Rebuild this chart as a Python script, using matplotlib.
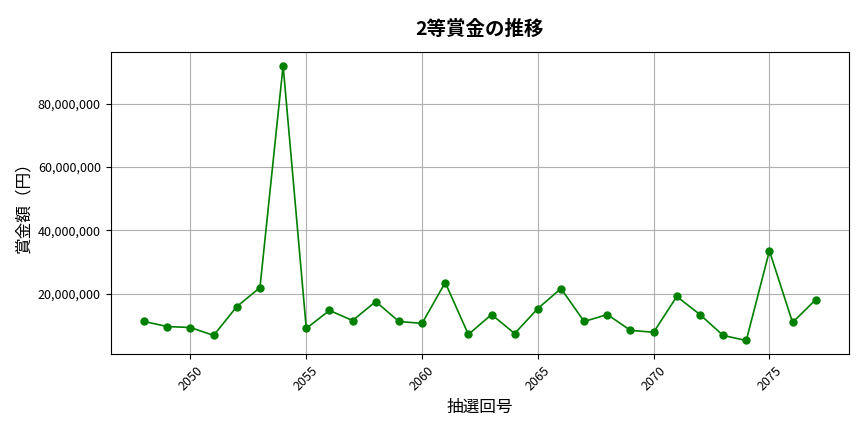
import matplotlib.pyplot as plt
from matplotlib.ticker import FuncFormatter

plt.rcParams['font.family'] = ['Noto Sans CJK JP', 'DejaVu Sans']

draws = list(range(2048, 2078))
prizes = [11.2, 9.6, 9.3, 6.8, 15.9, 21.9, 92.0, 9.0, 14.7, 11.5,
          17.5, 11.2, 10.6, 23.5, 7.1, 13.4, 7.4, 15.3, 21.6, 11.2,
          13.4, 8.4, 7.8, 19.1, 13.4, 6.8, 5.2, 33.5, 10.9, 18.1]
prizes = [v * 1e6 for v in prizes]

fig, ax = plt.subplots(figsize=(8.64, 4.32), dpi=100)
fig.subplots_adjust(left=0.128, right=0.983, top=0.88, bottom=0.18)

ax.plot(draws, prizes, color='green', marker='o', markersize=5, linewidth=1.2)
ax.set_title('2等賞金の推移', fontsize=14, fontweight='bold', pad=12)
ax.set_xlabel('抽選回号', fontsize=12)
ax.set_ylabel('賞金額（円）', fontsize=12)
ax.yaxis.set_major_formatter(FuncFormatter(lambda v, p: f'{v:,.0f}'))
ax.tick_params(axis='x', rotation=45, labelsize=9)
ax.tick_params(axis='y', labelsize=9)
ax.grid(True, color='#b0b0b0', linewidth=0.8)

plt.savefig('out.png', dpi=100)
